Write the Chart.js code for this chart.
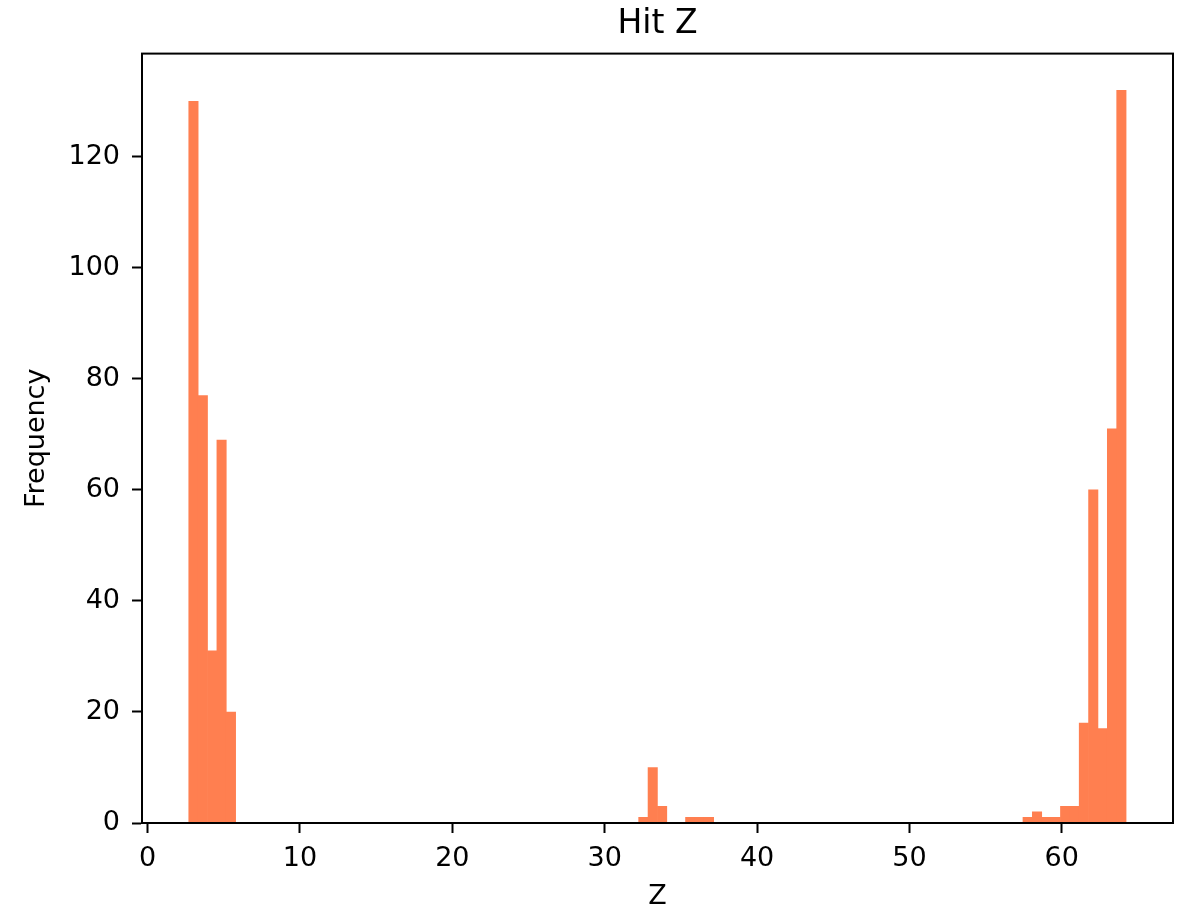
<!DOCTYPE html>
<html>
<head>
<meta charset="utf-8">
<title>Hit Z</title>
<script src="https://cdn.jsdelivr.net/npm/chart.js@4.4.1/dist/chart.umd.min.js"></script>
<style>
  html, body { margin: 0; padding: 0; background: #fff; }
  #chart { display: block; }
</style>
</head>
<body>
<canvas id="chart" width="1190" height="908"></canvas>
<script>
// Histogram of hit Z: 100 equal bins between zMin and zMax
const zMin = 2.70;
const zMax = 64.22;
const counts = [
    130, 77, 31, 69, 20, 0, 0, 0, 0, 0,
    0, 0, 0, 0, 0, 0, 0, 0, 0, 0,
    0, 0, 0, 0, 0, 0, 0, 0, 0, 0,
    0, 0, 0, 0, 0, 0, 0, 0, 0, 0,
    0, 0, 0, 0, 0, 0, 0, 0, 1, 10,
    3, 0, 0, 1, 1, 1, 0, 0, 0, 0,
    0, 0, 0, 0, 0, 0, 0, 0, 0, 0,
    0, 0, 0, 0, 0, 0, 0, 0, 0, 0,
    0, 0, 0, 0, 0, 0, 0, 0, 0, 1,
    2, 1, 1, 3, 3, 18, 60, 17, 71, 132
];
const xTicks = [0, 10, 20, 30, 40, 50, 60];
const yTicks = [0, 20, 40, 60, 80, 100, 120];
const xRange = [-0.37, 67.3];
const yRange = [0, 138.6];

// bin centres from the bin edges
const binWidth = (zMax - zMin) / counts.length;
const points = counts.map(function(c, i) {
    return { x: zMin + (i + 0.5) * binWidth, y: c };
});

Chart.defaults.font.family = "'DejaVu Sans', sans-serif";
Chart.defaults.color = '#000';

// matplotlib style box around the plot area
const frame = {
    id: 'frame',
    afterDraw: function(chart) {
        const ctx = chart.ctx;
        const a = chart.chartArea;
        ctx.save();
        ctx.strokeStyle = '#000';
        ctx.lineWidth = 2;
        ctx.strokeRect(a.left, a.top, a.right - a.left, a.bottom - a.top);
        ctx.restore();
    }
};

const tickGrid = {
    offset: false,
    drawOnChartArea: false,
    drawTicks: true,
    tickLength: 10,
    tickWidth: 2,
    tickColor: '#000'
};

new Chart(document.getElementById('chart').getContext('2d'), {
    type: 'bar',
    data: {
        datasets: [{
            label: 'Z',
            data: points,
            backgroundColor: '#ff7f50',
            borderWidth: 0,
            barPercentage: 1.0,
            categoryPercentage: 1.0
        }]
    },
    options: {
        responsive: false,
        animation: false,
        devicePixelRatio: 1,
        layout: {
            padding: { top: 0, right: 17, bottom: 0, left: 0 }
        },
        plugins: {
            legend: { display: false },
            tooltip: { enabled: false },
            title: {
                display: true,
                fullSize: false,   // centre over the plot area, not the canvas
                text: 'Hit Z',
                color: '#000',
                font: { size: 33, weight: 'normal' },
                padding: { top: 5, bottom: 9 }
            }
        },
        scales: {
            x: {
                type: 'linear',
                offset: false,
                min: xRange[0],
                max: xRange[1],
                afterBuildTicks: function(scale) {
                    scale.ticks = xTicks.map(v => ({ value: v }));
                },
                afterFit: function(scale) { scale.height = 85; },
                grid: tickGrid,
                border: { display: true, color: '#000', width: 2 },
                ticks: { color: '#000', font: { size: 27 }, padding: 10, maxRotation: 0, autoSkip: false },
                title: { display: true, text: 'Z', color: '#000', font: { size: 27, lineHeight: 0.85 }, padding: { top: 0, bottom: 0 } }
            },
            y: {
                type: 'linear',
                min: yRange[0],
                max: yRange[1],
                afterBuildTicks: function(scale) {
                    scale.ticks = yTicks.map(v => ({ value: v }));
                },
                afterFit: function(scale) { scale.width = 142; },
                grid: tickGrid,
                border: { display: true, color: '#000', width: 2 },
                ticks: { color: '#000', font: { size: 27 }, padding: 12, autoSkip: false },
                title: { display: true, text: 'Frequency', color: '#000', font: { size: 27 }, padding: { top: 21, bottom: 0 } }
            }
        }
    },
    plugins: [frame]
});
</script>
</body>
</html>
